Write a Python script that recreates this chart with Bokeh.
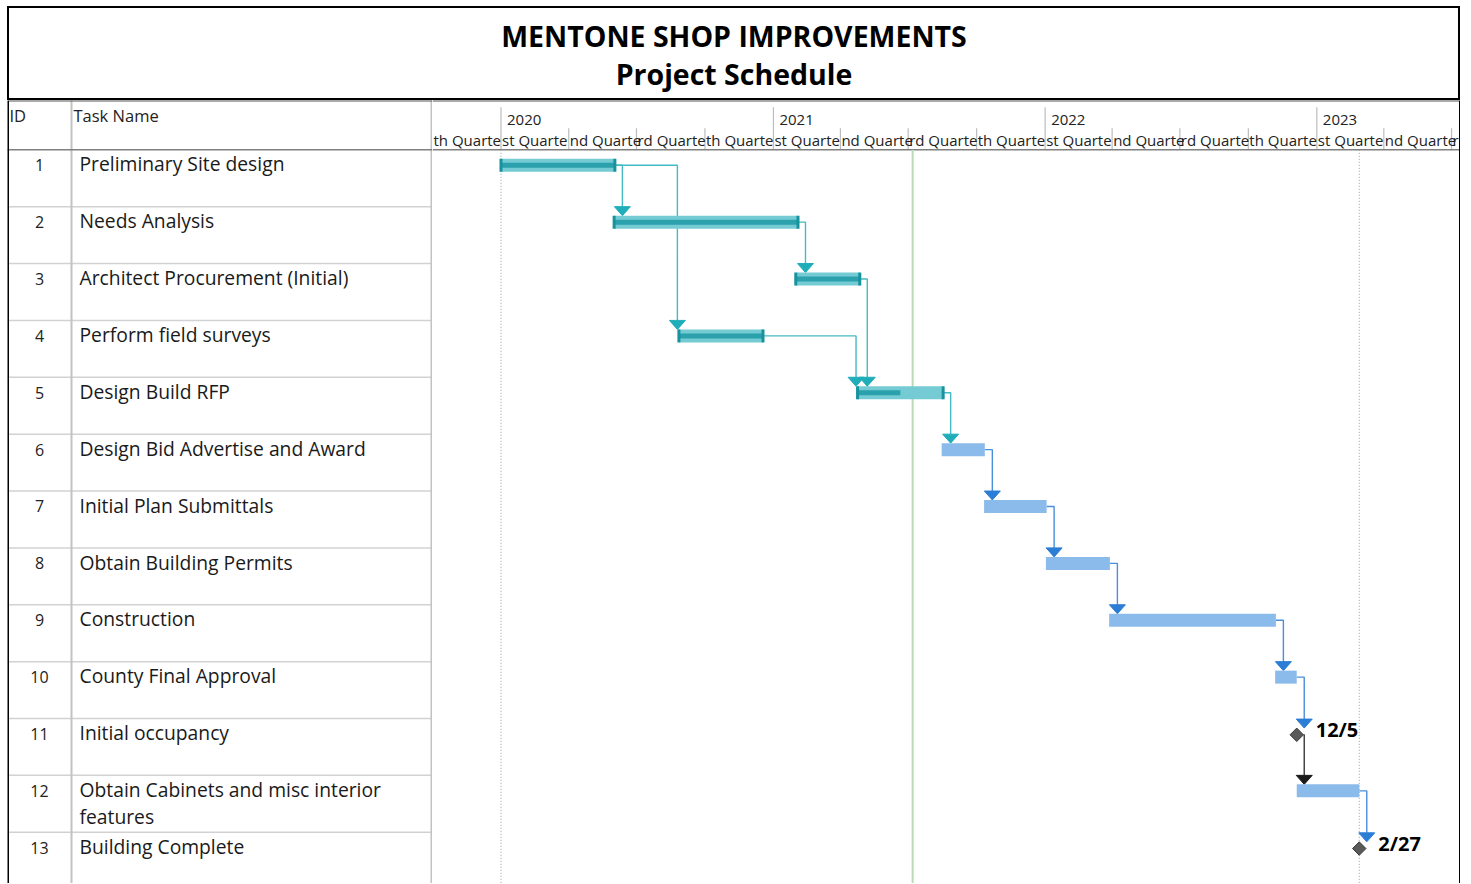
import math
import pandas as pd
from bokeh.plotting import figure
from bokeh.layouts import column, row
from bokeh.models import Range1d, ColumnDataSource
from bokeh.core.properties import value
from bokeh.embed import file_html
from bokeh.resources import INLINE

# ---------------- data ----------------
title_line1 = "MENTONE SHOP IMPROVEMENTS"
title_line2 = "Project Schedule"
header_id = "ID"
header_name = "Task Name"

task_ids = [1, 2, 3, 4, 5, 6, 7, 8, 9, 10, 11, 12, 13]
task_names = [
    "Preliminary Site design",
    "Needs Analysis",
    "Architect Procurement (Initial)",
    "Perform field surveys",
    "Design Build RFP",
    "Design Bid Advertise and Award",
    "Initial Plan Submittals",
    "Obtain Building Permits",
    "Construction",
    "County Final Approval",
    "Initial occupancy",
    "Obtain Cabinets and misc interior\nfeatures",
    "Building Complete",
]
start_dates = [
    "2020-01-01", "2020-06-01", "2021-01-31", "2020-08-27", "2021-04-24",
    "2021-08-15", "2021-10-11", "2022-01-02", "2022-03-28", "2022-11-06",
    "2022-12-05", "2022-12-05", "2023-02-27",
]
finish_dates = [
    "2020-06-02", "2021-02-03", "2021-04-27", "2020-12-18", "2021-08-17",
    "2021-10-12", "2022-01-03", "2022-03-29", "2022-11-07", "2022-12-05",
    "2022-12-05", "2023-02-27", "2023-02-27",
]
percent_complete = [100, 100, 100, 100, 50, 0, 0, 0, 0, 0, 0, 0, 0]
predecessors = [[], [1], [2], [1], [3, 4], [5], [6], [7], [8], [9], [10], [11], [12]]

year_labels = ["2020", "2021", "2022", "2023"]
# visible (clipped) part of "1st Quarter" .. "4th Quarter"
quarter_labels = ["st Quarte", "nd Quarte", "rd Quarte", "th Quarte"]
timeline_start = "2019-10-01"
timeline_end = "2023-07-13"
status_date = "2021-07-07"

# ---------------- layout constants ----------------
FONT = value("Open Sans")
TITLE_H = 94
BODY_H = 783
TABLE_W = 425
GANTT_W = 1028
PX_ROW = 56.87
Y_TOP = -49.3 / PX_ROW
Y_BOTTOM = Y_TOP + BODY_H / PX_ROW
BL = 0.38  # baseline correction factor (em)

TEAL_FILL = "#74CBD3"
TEAL_PROG = "#2AA1AC"
TEAL_CAP = "#17939D"
TEAL_LINK = "#45BAC4"
TEAL_ARROW = "#1FAEB9"
BLUE_FILL = "#8BBBEB"
BLUE_LINK = "#4A8FDB"
BLUE_ARROW = "#2B7DD5"
MS_FILL = "#5A5A5A"
MS_LINE = "#3A3A3A"


def to_ms(s):
    return pd.Timestamp(s).value / 1e6


X0 = to_ms(timeline_start)
X1 = to_ms(timeline_end)
MS_PX = (X1 - X0) / GANTT_W


def px_x(n):
    return n * MS_PX


def px_y(n):
    return n / PX_ROW


def base_y(px, fs):
    # y (in rows) so that the alphabetic baseline lands px below the reference line
    return px_y(px - BL * fs)


BAR_C = px_y(15.5)
BAR_H = px_y(13)
PROG_H = px_y(5)
MS_C = px_y(16.3)
MS_HALF = px_y(6.7)
ARR_HW = 8.0
ARR_H = 9.0

starts = [to_ms(s) for s in start_dates]
finishes = [to_ms(s) for s in finish_dates]
n = len(task_ids)
is_ms = [starts[i] == finishes[i] for i in range(n)]
is_teal = [percent_complete[i] > 0 and not is_ms[i] for i in range(n)]
is_blue = [percent_complete[i] == 0 and not is_ms[i] for i in range(n)]

# ---------------- title ----------------
TW = TABLE_W + GANTT_W
t = figure(width=TW, height=TITLE_H, x_range=Range1d(0, TW),
           y_range=Range1d(TITLE_H, 0), output_backend="svg", toolbar_location=None,
           min_border=0, x_axis_location=None, y_axis_location=None)
t.grid.visible = False
t.outline_line_color = "black"
t.outline_line_width = 3
t.text(x=[TW / 2] * 2, y=[40.5 - BL * 28.5, 78 - BL * 28.5], text=[title_line1, title_line2],
       text_font=FONT, text_font_style="bold", text_font_size="28.5px",
       text_align="center", text_baseline="alphabetic", text_color="black")

# ---------------- table ----------------
tb = figure(width=TABLE_W, height=BODY_H, x_range=Range1d(0, TABLE_W),
            y_range=Range1d(Y_BOTTOM, Y_TOP), output_backend="svg", toolbar_location=None,
            min_border=0, x_axis_location=None, y_axis_location=None)
tb.grid.visible = False
tb.outline_line_color = None

tb.segment(x0=[0] * 12, x1=[TABLE_W] * 12, y0=list(range(1, 13)), y1=list(range(1, 13)),
           line_color="#D2D2D2", line_width=1.5)
tb.segment(x0=[64, TABLE_W - 1], x1=[64, TABLE_W - 1], y0=[Y_TOP, Y_TOP], y1=[Y_BOTTOM, Y_BOTTOM],
           line_color="#C2C2C2", line_width=2)
tb.segment(x0=[0], x1=[TABLE_W], y0=[0], y1=[0], line_color="#808080", line_width=1.5)
tb.segment(x0=[0], x1=[TABLE_W], y0=[Y_TOP], y1=[Y_TOP], line_color="#555555", line_width=2)
tb.segment(x0=[0], x1=[0], y0=[Y_TOP], y1=[Y_BOTTOM], line_color="black", line_width=3)

tb.text(x=[2, 66], y=[base_y(-27.6, 16.5)] * 2, text=[header_id, header_name], text_font=FONT,
        text_font_size="16.5px", text_baseline="alphabetic", text_color="#222222")

tb.text(x=[32] * n, y=[i + base_y(21.5, 16) for i in range(n)], text=[str(v) for v in task_ids],
        text_font=FONT, text_font_size="16px", text_align="center",
        text_baseline="alphabetic", text_color="#222222")
nx, ny, nt = [], [], []
for i, name in enumerate(task_names):
    for k, line in enumerate(name.split("\n")):
        nx.append(72)
        ny.append(i + base_y(21.5 + k * 26.8, 19.3))
        nt.append(line)
tb.text(x=nx, y=ny, text=nt, text_font=FONT, text_font_size="19.3px",
        text_baseline="alphabetic", text_color="#1A1A1A")

# ---------------- gantt ----------------
g = figure(width=GANTT_W, height=BODY_H, x_range=Range1d(X0, X1),
           y_range=Range1d(Y_BOTTOM, Y_TOP), output_backend="svg", toolbar_location=None,
           min_border=0, x_axis_location=None, y_axis_location=None)
g.grid.visible = False
g.outline_line_color = None

# timescale header
qs = pd.date_range(timeline_start, timeline_end, freq="QS")
ys_x, q_x, q_txt, y_x, y_txt = [], [], [], [], []
for d in qs:
    xm = to_ms(d)
    q_x.append(xm + px_x(1))
    q_txt.append(quarter_labels[(d.month - 1) // 3])
    if d.month == 1 and str(d.year) in year_labels:
        ys_x.append(xm)
        y_x.append(xm + px_x(6))
        y_txt.append(str(d.year))
qsep = [to_ms(d) for d in qs if d.month != 1 and to_ms(d) > X0]
g.segment(x0=qsep, x1=qsep, y0=[px_y(-21.5)] * len(qsep), y1=[0] * len(qsep),
          line_color="#BDBDBD", line_width=1.2)
g.segment(x0=ys_x, x1=ys_x, y0=[px_y(-42.5)] * len(ys_x), y1=[0] * len(ys_x),
          line_color="#BDBDBD", line_width=1.2)
g.text(x=y_x, y=[base_y(-24.3, 15)] * len(y_x), text=y_txt,
       text_font=FONT, text_font_size="15px", text_baseline="alphabetic", text_color="#222222")
g.text(x=q_x, y=[base_y(-4.3, 15)] * len(q_x), text=q_txt, text_font=FONT, text_font_size="15px",
       text_baseline="alphabetic", text_color="#222222")
g.segment(x0=[X0], x1=[X1], y0=[0], y1=[0], line_color="#808080", line_width=1.5)
g.segment(x0=[X0], x1=[X1], y0=[Y_TOP], y1=[Y_TOP], line_color="#555555", line_width=2)
g.segment(x0=[X1], x1=[X1], y0=[Y_TOP], y1=[Y_BOTTOM], line_color="black", line_width=3)

# project start/finish and status lines
proj = [min(starts), max(finishes)]
g.segment(x0=proj, x1=proj, y0=[0, 0], y1=[Y_BOTTOM] * 2, line_color="#9A9A9A",
          line_width=1, line_dash="1 2")
sd = to_ms(status_date)
g.segment(x0=[sd], x1=[sd], y0=[0], y1=[Y_BOTTOM], line_color="#B8DCB4", line_width=2)

# links
link_xs = {"teal": [], "blue": [], "ms": []}
link_ys = {"teal": [], "blue": [], "ms": []}
arr_xs = {"teal": [], "blue": [], "ms": []}
arr_ys = {"teal": [], "blue": [], "ms": []}
for i in range(n):
    for p in predecessors[i]:
        j = p - 1
        kind = "ms" if is_ms[j] else ("teal" if is_teal[j] else "blue")
        py = j + (MS_C if is_ms[j] else BAR_C)
        sx = finishes[j] + (px_x(6.7) if is_ms[j] else 0)
        xv = max(finishes[j] + px_x(7.5), starts[i] - px_x(1.5))
        tip = i + (MS_C - MS_HALF if is_ms[i] else BAR_C - BAR_H / 2)
        b = tip - px_y(ARR_H)
        link_xs[kind].append([sx, xv, xv])
        link_ys[kind].append([py, py, b])
        arr_xs[kind].append([xv - px_x(ARR_HW), xv + px_x(ARR_HW), xv])
        arr_ys[kind].append([b, b, tip])

lc = {"teal": TEAL_LINK, "blue": BLUE_LINK, "ms": "#3A3A3A"}
ac = {"teal": TEAL_ARROW, "blue": BLUE_ARROW, "ms": "#1A1A1A"}
for k in ["teal", "blue", "ms"]:
    if link_xs[k]:
        g.multi_line(xs=link_xs[k], ys=link_ys[k], line_color=lc[k], line_width=1.4)
        g.patches(xs=arr_xs[k], ys=arr_ys[k], fill_color=ac[k], line_color=ac[k], line_width=1)

# teal (in-progress / complete) bars
ti = [i for i in range(n) if is_teal[i]]
teal = ColumnDataSource(dict(
    y=[i + BAR_C for i in ti],
    left=[starts[i] for i in ti],
    right=[finishes[i] for i in ti],
    prog=[starts[i] + (finishes[i] - starts[i]) * percent_complete[i] / 100 for i in ti],
))
g.hbar(y="y", left="left", right="right", height=BAR_H, source=teal,
       fill_color=TEAL_FILL, line_color=None)
g.hbar(y="y", left="left", right="prog", height=PROG_H, source=teal,
       fill_color=TEAL_PROG, line_color=None)
g.rect(x="left", y="y", width=3, width_units="screen", height=BAR_H, source=teal,
       fill_color=TEAL_CAP, line_color=None)
g.rect(x="right", y="y", width=3, width_units="screen", height=BAR_H, source=teal,
       fill_color=TEAL_CAP, line_color=None)

# not-started bars
bi = [i for i in range(n) if is_blue[i]]
g.hbar(y=[i + BAR_C for i in bi], left=[starts[i] for i in bi], right=[finishes[i] for i in bi],
       height=BAR_H, fill_color=BLUE_FILL, line_color=None)

# milestones
mi = [i for i in range(n) if is_ms[i]]
g.scatter(x=[starts[i] for i in mi], y=[i + MS_C for i in mi], marker="square",
          angle=math.pi / 4, size=9.5, fill_color=MS_FILL, line_color=MS_LINE, line_width=1)
g.text(x=[starts[i] + px_x(19) for i in mi], y=[i + base_y(19, 20) for i in mi],
       text=[f"{pd.Timestamp(start_dates[i]).month}/{pd.Timestamp(start_dates[i]).day}" for i in mi],
       text_font=FONT, text_font_style="bold", text_font_size="20px",
       text_baseline="alphabetic", text_color="black")

layout = column(t, row(tb, g), margin=(6, 0, 0, 7))
open("out.html", "w").write(file_html(layout, INLINE))
